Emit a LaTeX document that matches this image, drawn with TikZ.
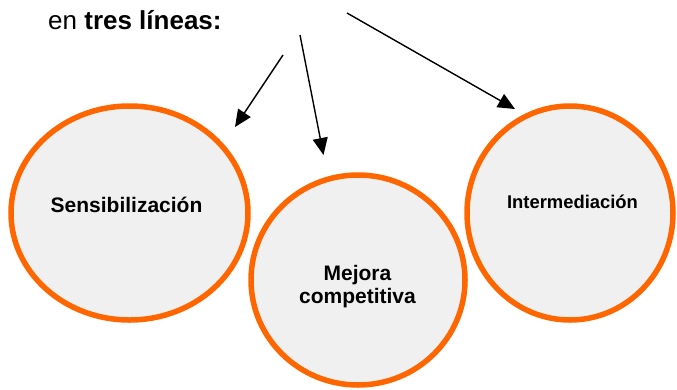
\documentclass[tikz,border=0pt]{standalone}
\usepackage{fontspec}
\setmainfont{Liberation Sans}
\usetikzlibrary{shapes.geometric,arrows.meta}
\definecolor{ringorange}{RGB}{255,102,0}
\definecolor{ringfill}{RGB}{240,240,240}
\tikzset{
  ring/.style={ellipse, draw=ringorange, line width=5.5pt, fill=ringfill, inner sep=0pt},
  pointer/.style={draw=black, line width=1.4pt, -{Triangle[length=17pt,width=15pt]}},
  ringtext/.style={font=\fontsize{21}{23}\selectfont\bfseries, inner sep=0pt, anchor=base, align=center},
}
\begin{document}
\begin{tikzpicture}[x=1pt,y=-1pt]
\useasboundingbox (0,0) rectangle (677,389);
% rings
\node[ring, minimum width=237pt, minimum height=214pt] (sens) at (129.5,213) {};
\node[ring, minimum width=206pt, minimum height=214pt] (inter) at (570,213) {};
\node[ring, minimum width=214pt, minimum height=210pt] (mejora) at (358,280) {};
% texts
\node[ringtext] (tsens) at (126.5,212.5) {Sensibilización};
\node[ringtext, font=\fontsize{18.4}{22}\selectfont\bfseries] (tinter) at (572.5,208) {Intermediación};
\node[ringtext] (tmej) at (357.5,303) {Mejora\\competitiva};
% heading
\node[anchor=base west, inner sep=0pt, font=\fontsize{26}{30}\selectfont] (head) at (48,29) {en \textbf{tres líneas:}};
% arrows
\coordinate (a1s) at (283,55);
\coordinate (a1e) at (235,127);
\coordinate (a2s) at (300,35);
\coordinate (a2e) at (323.5,155);
\coordinate (a3s) at (347,13);
\coordinate (a3e) at (515,109);
\draw[pointer] (a1s) -- (a1e);
\draw[pointer] (a2s) -- (a2e);
\draw[pointer] (a3s) -- (a3e);
\end{tikzpicture}
\end{document}
